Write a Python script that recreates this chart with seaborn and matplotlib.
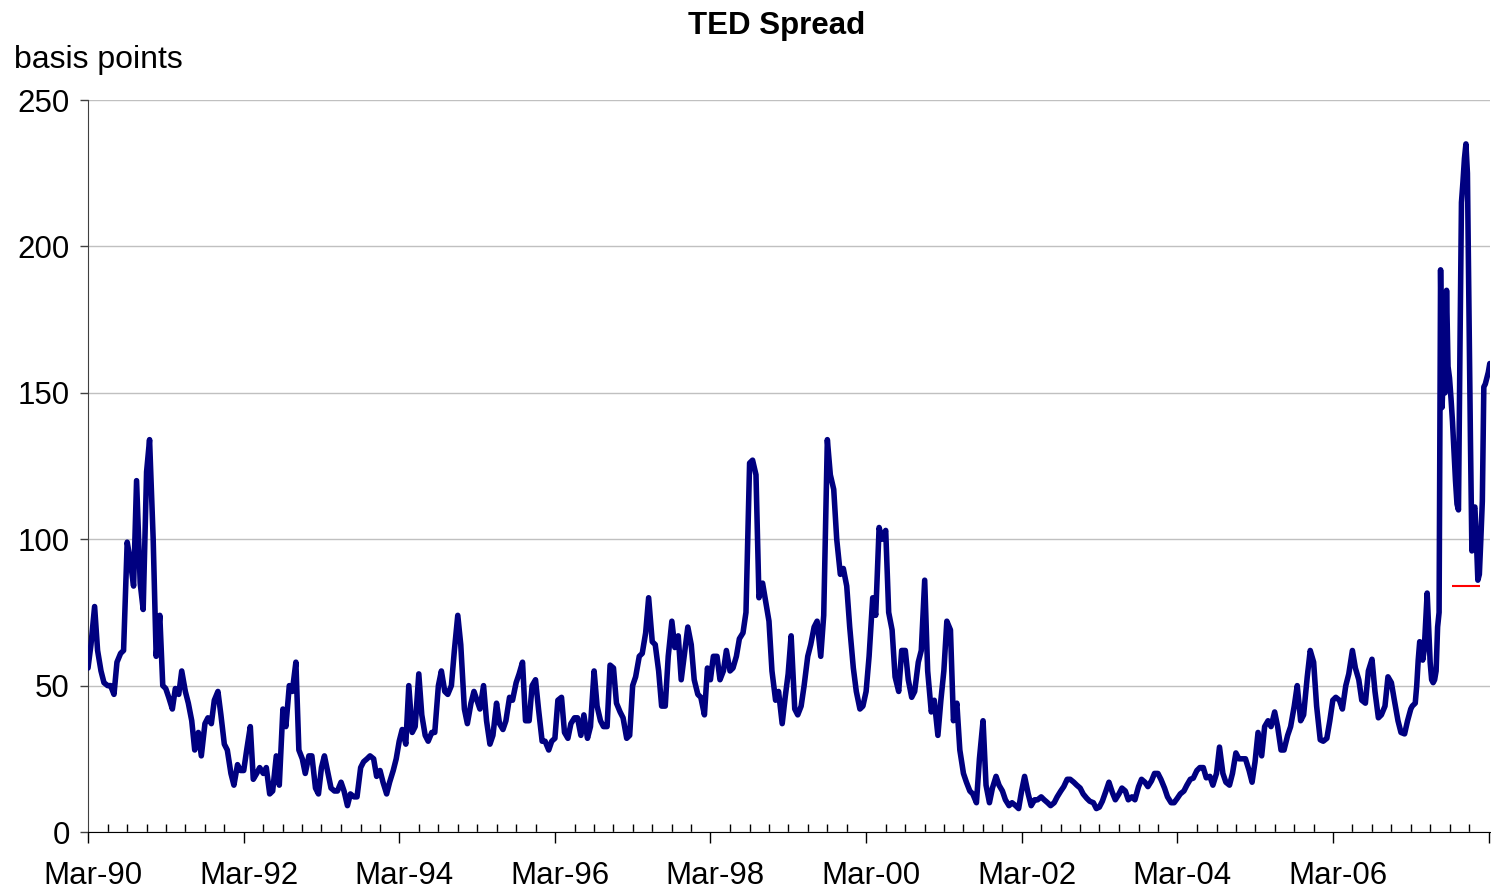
import matplotlib
matplotlib.use('Agg')
import matplotlib.pyplot as plt
import matplotlib.dates as mdates
import matplotlib.transforms as mtransforms
import numpy as np
import pandas as pd
import seaborn as sns

# TED spread, basis points, semi-monthly from Mar of each year to Feb of the next
ted_1990 = [56, 64, 77, 62, 55, 51, 50, 50, 47, 58, 61, 62, 99, 93, 84, 120, 85, 76, 123, 134, 100, 60, 74, 50]
ted_1991 = [49, 46, 42, 49, 47, 55, 48, 44, 38, 28, 34, 26, 37, 39, 37, 45, 48, 40, 30, 28, 20, 16, 23, 21]
ted_1992 = [21, 28, 36, 18, 20, 22, 20, 22, 13, 14, 26, 16, 42, 36, 50, 48, 58, 28, 25, 20, 26, 26, 15, 13]
ted_1993 = [22, 26, 20, 15, 14, 14, 17, 14, 9, 13, 12, 12, 22, 24, 25, 26, 25, 19, 21, 17, 13, 17, 21, 25]
ted_1994 = [31, 35, 30, 50, 34, 36, 54, 40, 33, 31, 34, 34, 50, 55, 48, 47, 50, 62, 74, 64, 42, 37, 44, 48]
ted_1995 = [45, 42, 50, 38, 30, 33, 44, 37, 35, 38, 46, 45, 51, 54, 58, 38, 38, 50, 52, 42, 31, 31, 28, 31]
ted_1996 = [32, 45, 46, 34, 32, 37, 39, 39, 33, 40, 32, 36, 55, 43, 38, 36, 36, 57, 56, 44, 41, 39, 32, 33]
ted_1997 = [50, 53, 60, 61, 68, 80, 65, 64, 55, 43, 43, 60, 72, 63, 67, 52, 62, 70, 64, 52, 47, 46, 40, 56]
ted_1998 = [52, 60, 60, 52, 55, 62, 55, 56, 60, 66, 68, 75, 126, 127, 122, 80, 85, 79, 72, 55, 45, 48, 37, 46]
ted_1999 = [54, 67, 42, 40, 43, 50, 60, 64, 70, 72, 60, 74, 134, 122, 117, 100, 88, 90, 84, 70, 56, 48, 42, 43]
ted_2000 = [48, 60, 80, 74, 104, 100, 103, 75, 69, 53, 48, 62, 62, 52, 46, 48, 58, 62, 86, 55, 41, 45, 33, 45]
ted_2001 = [55, 72, 69, 38, 44, 28, 20, 17, 14, 13, 10, 25, 38, 16, 10, 15, 19, 16, 14, 11, 9, 10, 9, 8]
ted_2002 = [14, 19, 13, 9, 11, 11, 12, 11, 10, 9, 10, 12, 14, 15.5, 18, 18, 17, 16, 15, 13, 11.5, 10.5, 10, 8]
ted_2003 = [8.5, 10.5, 14, 17, 13.5, 11, 13, 15, 14, 11, 12, 11, 15.5, 18, 17, 15.5, 17.5, 20, 20, 18, 15, 12, 10, 10]
ted_2004 = [11.5, 13, 14, 16, 18, 18.4, 21, 22, 22, 18.5, 19, 16, 20, 29, 20, 17, 16, 20, 27, 25, 25, 25, 21, 17]
ted_2005 = [24, 34, 26, 36, 38, 36, 41, 36, 28, 28, 33, 36, 43, 50, 38, 40, 53, 62, 58, 43, 31.5, 31, 32, 38]
ted_2006 = [45, 46, 45, 42, 50, 54, 62, 56, 52, 45, 44, 55, 59, 48, 39, 40, 43, 53, 51, 45, 38, 34, 33.5, 38]

# weekly from Mar-07 to Mar-08
ted_weekly_0708 = [42, 43, 43.5, 44, 50, 58.7, 65, 63, 58.7, 62, 72, 81.6, 70, 58, 52,
                   51, 52, 55, 70, 75, 192, 145, 160, 150, 185, 159, 155, 148, 140, 130,
                   120, 112, 110, 165, 215, 222, 230, 235, 225, 180, 135, 96, 110, 111, 100,
                   86, 88, 100, 113, 152, 153, 155, 157, 160]

# short red marker line
red_level = 84
red_start = '2007-09-12'
red_end = '2008-01-21'

y_ticks = [0, 50, 100, 150, 200, 250]

semi = (ted_1990 + ted_1991 + ted_1992 + ted_1993 + ted_1994 + ted_1995 + ted_1996
        + ted_1997 + ted_1998 + ted_1999 + ted_2000 + ted_2001 + ted_2002 + ted_2003
        + ted_2004 + ted_2005 + ted_2006)
dates = (list(pd.date_range('1990-03-01', periods=len(semi), freq='SMS'))
         + list(pd.date_range('2007-03-02', periods=len(ted_weekly_0708), freq='7D')))
df = pd.DataFrame({'date': dates, 'bp': semi + ted_weekly_0708})

sns.set_style('white')
plt.rcParams['font.family'] = ['Liberation Sans', 'DejaVu Sans']
plt.rcParams['text.color'] = 'black'
plt.rcParams['xtick.color'] = 'black'
plt.rcParams['ytick.color'] = 'black'

W, H = 1491, 890
fig = plt.figure(figsize=(W / 100, H / 100), dpi=100)
ax = fig.add_axes([88 / W, 1 - 832 / H, (1490 - 88) / W, (832 - 100) / H])

sns.lineplot(data=df, x='date', y='bp', color='#000080', linewidth=4, ax=ax, zorder=3,
             solid_joinstyle='round', solid_capstyle='round')
ax.hlines(red_level, pd.Timestamp(red_start), pd.Timestamp(red_end), color='red', linewidth=1.5, zorder=4)

ax.set_xlim(pd.Timestamp('1990-03-01'), pd.Timestamp('2008-03-08'))
ax.set_ylim(0, 250)
ax.set_yticks(y_ticks)
ax.yaxis.grid(True, color='#c0c0c0', linewidth=1)
ax.xaxis.grid(False)
ax.set_axisbelow(True)

major = pd.date_range('1990-03-01', '2008-03-01', freq='24MS')
ax.set_xticks(major)
ax.set_xticklabels([d.strftime('%b-%y') if d.year < 2008 else '' for d in major])
ax.xaxis.set_minor_locator(mdates.MonthLocator(bymonth=(3, 6, 9, 12)))

ax.tick_params(axis='x', which='major', direction='out', length=8, width=1, color='black',
               labelcolor='black', labelsize=22.5, pad=13, bottom=True)
ax.tick_params(axis='x', which='minor', direction='in', length=6, width=1, color='black', bottom=True)
ax.tick_params(axis='y', which='major', direction='out', length=6, width=1, color='#404040',
               labelcolor='black', labelsize=22.5, pad=7, left=True)

offset = mtransforms.ScaledTranslation(5 / 100, 0, fig.dpi_scale_trans)
for lbl in ax.get_xticklabels():
    lbl.set_transform(lbl.get_transform() + offset)

ax.set_xlabel('')
ax.set_ylabel('')
for s in ['top', 'right']:
    ax.spines[s].set_visible(False)
ax.spines['left'].set_color('#404040')
ax.spines['bottom'].set_color('black')

fig.text(777 / W, 1 - 34 / H, 'TED Spread', ha='center', va='baseline', fontsize=22.5,
         fontweight='bold', color='black')
fig.text(14 / W, 1 - 68 / H, 'basis points', ha='left', va='baseline', fontsize=23, color='black')

plt.savefig('out.png', dpi=100)
plt.close()
